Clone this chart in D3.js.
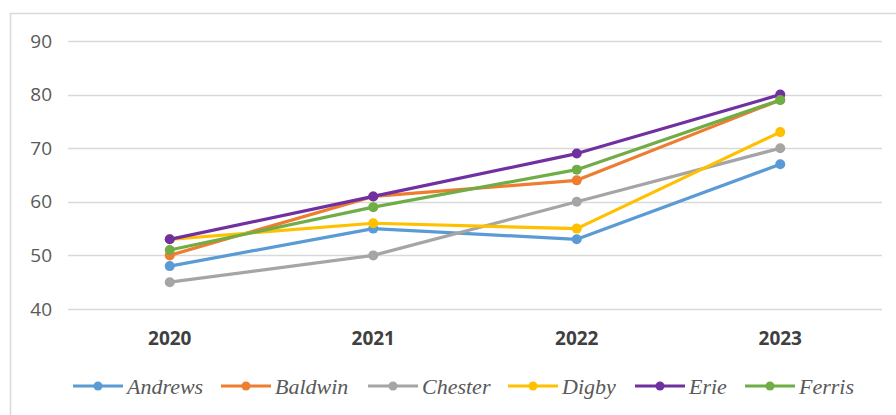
<!DOCTYPE html>
<html>
<head>
<meta charset="utf-8">
<script src="https://cdn.jsdelivr.net/npm/d3@7"></script>
<style>
  html, body { margin: 0; padding: 0; background: #fff; }
  svg { display: block; }
</style>
</head>
<body>
<div id="chart"></div>
<script>
  "use strict";

  var years = ["2020", "2021", "2022", "2023"];
  var yTicks = [40, 50, 60, 70, 80, 90];
  var seriesNames = ["Andrews", "Baldwin", "Chester", "Digby", "Erie", "Ferris"];
  var seriesColors = ["#5b9bd5", "#ed7d31", "#a5a5a5", "#ffc000", "#7030a0", "#70ad47"];
  var andrews = [48, 55, 53, 67];
  var baldwin = [50, 61, 64, 79];
  var chester = [45, 50, 60, 70];
  var digby = [53, 56, 55, 73];
  var erie = [53, 61, 69, 80];
  var ferris = [51, 59, 66, 79];
  var seriesValues = [andrews, baldwin, chester, digby, erie, ferris];

  var width = 896, height = 415;
  var plot = { left: 68, right: 882, top: 41, bottom: 309 };

  var svg = d3.select("#chart")
    .append("svg")
    .attr("width", width)
    .attr("height", height);

  // chart frame (only top and left edges are visible in the crop)
  svg.append("path")
    .attr("d", "M10.5," + height + "V13.5H" + width)
    .attr("fill", "none")
    .attr("stroke", "#d9d9d9")
    .attr("stroke-width", 1.5);

  var x = d3.scaleBand().domain(years).range([plot.left, plot.right]);
  var y = d3.scaleLinear().domain([40, 90]).range([plot.bottom, plot.top]);

  // gridlines
  svg.append("g")
    .selectAll("line")
    .data(yTicks)
    .enter()
    .append("line")
    .attr("x1", plot.left)
    .attr("x2", plot.right)
    .attr("y1", function(d) { return Math.round(y(d)) + 0.5; })
    .attr("y2", function(d) { return Math.round(y(d)) + 0.5; })
    .attr("stroke", "#d9d9d9")
    .attr("stroke-width", 1.3);

  // y axis labels
  var yAxis = svg.append("g")
    .attr("transform", "translate(" + (plot.left - 8) + ",0)")
    .call(d3.axisLeft(y).tickValues(yTicks).tickSize(0).tickPadding(8));
  yAxis.select(".domain").remove();
  yAxis.selectAll("text")
    .attr("fill", "#595959")
    .style("font-family", "'Open Sans', sans-serif")
    .style("font-size", "19px");

  // x axis labels
  var xAxis = svg.append("g")
    .attr("transform", "translate(0," + plot.bottom + ")")
    .call(d3.axisBottom(x).tickSize(0).tickPadding(23));
  xAxis.select(".domain").remove();
  xAxis.selectAll("text")
    .attr("fill", "#404040")
    .style("font-family", "'Open Sans', sans-serif")
    .style("font-weight", "bold")
    .style("font-size", "19px");

  var cx = function(i) { return x(years[i]) + x.bandwidth() / 2; };
  var line = d3.line()
    .x(function(d, i) { return cx(i); })
    .y(function(d) { return y(d); });

  var series = svg.append("g")
    .selectAll("g")
    .data(seriesValues)
    .enter()
    .append("g");

  series.append("path")
    .attr("d", line)
    .attr("fill", "none")
    .attr("stroke", function(d, i) { return seriesColors[i]; })
    .attr("stroke-width", 3.2)
    .attr("stroke-linejoin", "round");

  series.each(function(vals, si) {
    d3.select(this).selectAll("circle")
      .data(vals)
      .enter()
      .append("circle")
      .attr("cx", function(d, i) { return cx(i); })
      .attr("cy", function(d) { return y(d); })
      .attr("r", 5)
      .attr("fill", seriesColors[si]);
  });

  // legend
  var legendX = [73, 221, 368, 508, 635, 745];
  var legendY = 386;
  var legend = svg.append("g")
    .selectAll("g")
    .data(seriesNames)
    .enter()
    .append("g")
    .attr("transform", function(d, i) { return "translate(" + legendX[i] + "," + legendY + ")"; });

  legend.append("line")
    .attr("x1", 0).attr("x2", 50)
    .attr("y1", 0).attr("y2", 0)
    .attr("stroke", function(d, i) { return seriesColors[i]; })
    .attr("stroke-width", 3.2);

  legend.append("circle")
    .attr("cx", 25).attr("cy", 0).attr("r", 4.5)
    .attr("fill", function(d, i) { return seriesColors[i]; });

  legend.append("text")
    .attr("x", 54)
    .attr("y", 0)
    .attr("dy", "0.35em")
    .attr("fill", "#595959")
    .style("font-family", "'Liberation Serif', 'DejaVu Serif', serif")
    .style("font-style", "italic")
    .style("font-size", "22px")
    .text(function(d) { return d; });
</script>
</body>
</html>
